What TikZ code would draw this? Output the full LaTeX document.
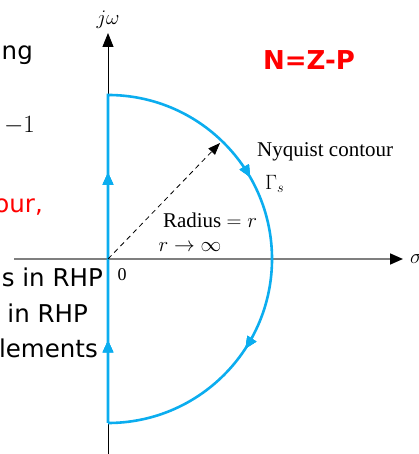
\documentclass[tikz,border=0pt]{standalone}
\usepackage{fontspec}
\setmainfont{Liberation Serif}
\newfontfamily\slidefont{DejaVu Sans}
\usetikzlibrary{
    arrows.meta,
    decorations.markings
}
\definecolor{ContourBlue}{HTML}{0BADEF}
\definecolor{AxisGray}{HTML}{7F7F7F}
\definecolor{SlideRed}{HTML}{FF0000}

\begin{document}
\begin{tikzpicture}[
    x=1pt, y=1pt,
    label/.style={inner sep=0pt, font=\fontsize{21}{24}\selectfont},
    slide/.style={inner sep=0pt, anchor=base east, font=\slidefont\fontsize{24.5}{28}\selectfont},
    blueTip/.style={decoration={markings,
        mark=at position #1 with {\arrow{Triangle[length=12pt,width=10pt]}}},
        postaction={decorate}},
    contour/.style={ContourBlue, line width=2.6pt}
]

    \useasboundingbox (0,0) rectangle (419,454);

    % axes
    \coordinate (O) at (108,195);
    \coordinate (axisL) at (14,195);
    \coordinate (axisR) at (403,195);
    \coordinate (axisB) at (108,0);
    \coordinate (axisT) at (108,421);
    \draw[AxisGray, line width=1.6pt, -{Triangle[length=13pt,width=11pt,color=black]}] (axisL) -- (axisR);
    \draw[black, line width=0.8pt, -{Triangle[length=14pt,width=11pt]}] (axisB) -- (axisT);

    % Nyquist contour
    \coordinate (cBot) at (108,31);
    \coordinate (cTop) at (108,359);
    \draw[contour, blueTip=0.098, blueTip=0.297, blueTip=0.593, blueTip=0.807]
        (cBot) -- (cTop) arc[start angle=90, end angle=-90, radius=164];

    % radius
    \coordinate (rEnd) at (220,311);
    \draw[black, line width=0.8pt, dash pattern=on 5pt off 4pt,
        -{Triangle[length=12pt,width=9pt]}] (O) -- (rEnd);

    % labels
    \node[label] (jw) at (108,434) {$j\omega$};
    \node[label, anchor=west] (sig) at (410,195) {$\sigma$};
    \node[label, font=\fontsize{18}{20}\selectfont] (zero) at (122,179) {0};
    \node[label] (radius) at (210,234) {Radius $= r$};
    \node[label] (rinf) at (190,207) {$r \to \infty$};
    \node[label, anchor=west] (nyq) at (257,302) {Nyquist contour};
    \node[label, anchor=west] (gam) at (265,270) {$\Gamma_s$};
    \node[inner sep=0pt, text=SlideRed, font=\slidefont\bfseries\fontsize{26}{30}\selectfont] (nzp) at (309,394) {N=Z-P};

    % cut-off slide text
    \node[slide] (t1) at (33,394) {ng};
    \node[label, anchor=base east, font=\fontsize{27}{30}\selectfont] (t2) at (35,321) {$-1$};
    \node[slide, text=SlideRed] (t3) at (43,241) {our,};
    \node[slide] (t4) at (103,167) {s in RHP};
    \node[slide] (t5) at (88,131) {in RHP};
    \node[slide] (t6) at (98,96) {lements};

\end{tikzpicture}
\end{document}
